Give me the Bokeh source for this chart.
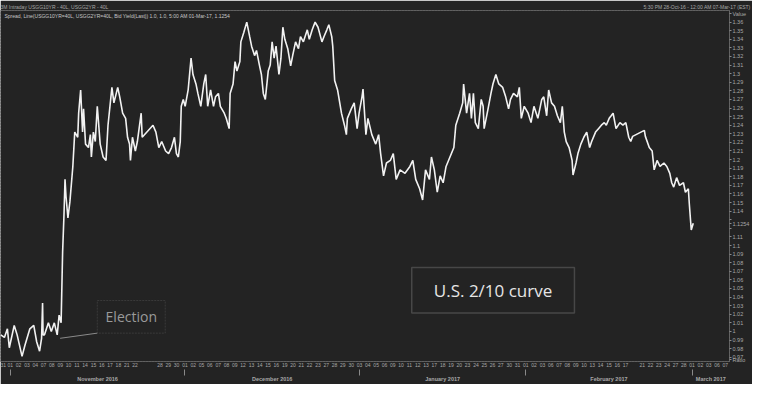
from bokeh.plotting import figure
from bokeh.models import (FixedTicker, LinearAxis, Label, BoxAnnotation, Range1d,
                          ColumnDataSource, CustomJSTickFormatter)
from bokeh.embed import file_html
from bokeh.resources import INLINE

# ---------------- data ----------------
# trading sessions (index 0 = 31-Oct-2016); "" = label not shown
day_labels = ["31", "01", "02", "03", "04", "07", "08", "09", "10", "11", "14", "15", "16", "17", "18",
              "21", "22", "", "", "28", "29", "30",
              "01", "02", "05", "06", "07", "08", "09", "12", "13", "14", "15", "16", "19", "20", "21",
              "22", "23", "27", "28", "29", "30",
              "03", "04", "05", "06", "09", "10", "11", "12", "13", "17", "18", "19", "20", "23", "24",
              "25", "26", "27", "30", "31",
              "01", "02", "03", "06", "07", "08", "09", "10", "13", "14", "15", "16", "17", "", "21",
              "22", "23", "24", "27", "28",
              "01", "02", "03", "06", "07"]
month_names = ["November 2016", "December 2016", "January 2017", "February 2017", "March 2017"]
month_start = [1, 22, 43, 63, 83]          # session index of each month's first day
session_end = 87.5

# spread (10y - 2y), session position and value
t = [-0.15, 0.29, 0.65, 0.88, 1.47, 1.82, 2.41, 2.76, 3.35, 3.82, 4.17, 4.52, 4.76, 4.88, 4.94,
     5.11, 5.58, 5.93, 6.29, 6.64, 6.87, 7.11, 7.29, 7.46, 7.58, 7.70, 7.93, 8.17, 8.52, 8.75,
     9.11, 9.22, 9.46, 9.69, 9.81, 10.05, 10.40, 10.63, 10.75, 10.99, 11.22, 11.46, 11.81, 12.16,
     12.51, 12.75, 13.22, 13.46, 13.92, 14.16, 14.51, 14.87, 15.10, 15.34, 15.45, 15.69, 16.04,
     16.28, 16.74, 16.86, 18.16, 18.51, 18.86, 19.21, 19.68, 20.04, 20.39, 20.74, 20.98, 21.21,
     21.44, 21.56, 21.80, 22.03, 22.39, 22.74, 22.97, 23.33, 23.56, 23.91, 24.27, 24.50, 24.74,
     25.09, 25.44, 25.68, 26.03, 26.26, 26.73, 26.97, 27.32, 27.44, 27.79, 28.03, 28.26, 28.61,
     28.73, 29.08, 29.44, 29.79, 30.02, 30.38, 30.61, 30.96, 31.20, 31.43, 31.67, 32.02, 32.26,
     32.49, 32.73, 32.96, 33.31, 33.55, 33.78, 34.02, 34.37, 34.72, 34.96, 35.31, 35.66, 35.90,
     36.25, 36.72, 36.96, 37.31, 37.66, 38.01, 38.48, 38.72, 39.07, 39.31, 39.66, 39.78, 40.01,
     40.36, 40.83, 41.19, 41.42, 41.54, 42.01, 42.36, 42.71, 42.95, 43.30, 43.42, 43.77, 44.01,
     44.48, 44.95, 45.30, 45.54, 45.89, 46.24, 46.71, 47.06, 47.41, 47.88, 48.47, 49.06, 49.41,
     49.76, 50.23, 50.59, 50.94, 51.41, 51.65, 52.00, 52.35, 52.70, 53.06, 53.41, 53.88, 54.35,
     54.58, 55.05, 55.41, 55.52, 55.88, 56.23, 56.46, 56.70, 56.93, 57.29, 57.64, 57.87, 57.99,
     58.46, 58.81, 59.05, 59.40, 59.75, 60.22, 60.58, 60.93, 61.16, 61.52, 61.99, 62.22, 62.46,
     62.81, 63.28, 63.63, 63.98, 64.45, 64.92, 65.16, 65.51, 65.75, 66.10, 66.45, 66.80, 67.16,
     67.39, 67.63, 67.86, 68.21, 68.57, 68.68, 69.04, 69.27, 69.62, 69.98, 70.33, 70.68, 70.92,
     71.39, 71.74, 72.09, 72.44, 72.68, 73.03, 73.27, 73.50, 73.85, 74.32, 74.68, 75.03, 75.38,
     75.62, 75.85, 77.26, 77.38, 77.85, 78.20, 78.44, 78.79, 79.14, 79.61, 79.96, 80.32, 80.55,
     80.79, 81.14, 81.49, 81.96, 82.20, 82.55, 82.67, 82.90, 83.14]
spread = [0.996, 0.993, 1.003, 0.981, 1.007, 0.996, 0.971, 0.984, 1.003, 1.007, 0.988, 0.977, 0.992, 1.033, 0.996,
          0.996, 1.010, 1.000, 1.010, 0.996, 1.019, 1.010, 1.092, 1.137, 1.177, 1.157, 1.132, 1.151, 1.192, 1.232,
          1.226, 1.254, 1.281, 1.232, 1.259, 1.218, 1.214, 1.229, 1.203, 1.232, 1.221, 1.262, 1.218, 1.203,
          1.199, 1.240, 1.284, 1.266, 1.284, 1.273, 1.254, 1.248, 1.226, 1.218, 1.199, 1.226, 1.210,
          1.221, 1.254, 1.226, 1.240, 1.232, 1.214, 1.221, 1.210, 1.207, 1.214, 1.226, 1.207, 1.203,
          1.221, 1.262, 1.270, 1.262, 1.281, 1.318, 1.299, 1.288, 1.277, 1.262, 1.288, 1.299, 1.262,
          1.281, 1.262, 1.273, 1.277, 1.262, 1.254, 1.248, 1.236, 1.277, 1.288, 1.314, 1.303, 1.314,
          1.337, 1.348, 1.360, 1.343, 1.332, 1.321, 1.327, 1.310, 1.299, 1.277, 1.270, 1.303, 1.310,
          1.337, 1.318, 1.332, 1.299, 1.318, 1.354, 1.340, 1.329, 1.309, 1.321, 1.337, 1.329, 1.343,
          1.337, 1.351, 1.340, 1.351, 1.360, 1.354, 1.337, 1.343, 1.351, 1.357, 1.343, 1.332, 1.292,
          1.281, 1.254, 1.240, 1.229, 1.248, 1.259, 1.266, 1.236, 1.254, 1.273, 1.282, 1.229, 1.248,
          1.229, 1.218, 1.229, 1.207, 1.181, 1.196, 1.199, 1.207, 1.177, 1.188, 1.184, 1.192, 1.199,
          1.177, 1.166, 1.153, 1.188, 1.177, 1.203, 1.188, 1.162, 1.181, 1.173, 1.192, 1.203, 1.214,
          1.240, 1.254, 1.266, 1.288, 1.254, 1.277, 1.248, 1.277, 1.243, 1.236, 1.270, 1.262, 1.236,
          1.259, 1.277, 1.288, 1.299, 1.288, 1.284, 1.273, 1.259, 1.270, 1.277, 1.273, 1.284, 1.248,
          1.262, 1.254, 1.243, 1.262, 1.248, 1.270, 1.273, 1.251, 1.281, 1.266, 1.262, 1.251, 1.243,
          1.262, 1.232, 1.221, 1.214, 1.199, 1.182, 1.196, 1.207, 1.218, 1.226, 1.232, 1.214, 1.221,
          1.232, 1.236, 1.240, 1.243, 1.240, 1.248, 1.251, 1.254, 1.236, 1.243, 1.240, 1.243, 1.226,
          1.221, 1.227, 1.234, 1.227, 1.214, 1.210, 1.188, 1.199, 1.192, 1.196, 1.192, 1.184, 1.173,
          1.168, 1.179, 1.170, 1.173, 1.162, 1.166, 1.148, 1.118, 1.126]
last_value = 1.1254
y_ticks = [round(0.97 + 0.01 * i, 2) for i in range(40)]
hidden_y_labels = [1.12, 1.13]            # covered by the last-value tag
header_left = "3M Intraday USGG10YR - 40L, USGG2YR - 40L"
header_right = "5:30 PM 28-Oct-16 - 12:00 AM 07-Mar-17 (EST)"
header_sub = "Spread, Line(USGG10YR=40L, USGG2YR=40L, Bid Yield(Last))    1.0, 1.0,  5:00 AM 01-Mar-17, 1.1254"

assert len(t) == len(spread)

# ---------------- styling ----------------
BG = "#232323"
GRAY = "#a8a8a8"
FONT = "Liberation Sans"
Y_LO, Y_HI = 0.965, 1.3735

p = figure(width=752, height=384, output_backend="svg", toolbar_location=None,
           x_range=Range1d(-0.18, session_end), y_range=Range1d(Y_LO, Y_HI),
           x_axis_type=None, y_axis_location="right",
           background_fill_color=BG, border_fill_color=BG,
           min_border_left=0, min_border_top=0, min_border_bottom=0, min_border_right=0)
p.outline_line_color = "#6a6a6a"
p.outline_line_dash = "1 2"

# vertical day grid
p.xgrid.ticker = FixedTicker(ticks=list(range(len(day_labels))))
p.xgrid.grid_line_color = "#363636"
p.xgrid.grid_line_dash = "1 3"
p.ygrid.grid_line_color = None

# right value axis (with "Value" / "Ratio" captions and last-value tag)
value_pos = Y_HI - 0.004
ratio_pos = Y_LO + 0.002
ya = p.yaxis[0]
ya.ticker = FixedTicker(ticks=y_ticks + [last_value, value_pos, ratio_pos])
ya.formatter = CustomJSTickFormatter(
    args=dict(last=last_value, vpos=value_pos, rpos=ratio_pos, hide=hidden_y_labels),
    code="""
if (Math.abs(tick-last)<1e-7) return last.toFixed(4);
if (Math.abs(tick-vpos)<1e-7) return 'Value';
if (Math.abs(tick-rpos)<1e-7) return 'Ratio';
const r = Math.round(tick*100)/100;
for (const h of hide) { if (Math.abs(r-h)<1e-7) return ''; }
return r.toString();
""")
ya.axis_line_color = "#6a6a6a"
ya.axis_line_dash = "1 2"
ya.major_tick_line_color = "#8a8a8a"
ya.major_tick_out = 2
ya.major_tick_in = 0
ya.minor_tick_line_color = None
ya.major_label_text_font = FONT
ya.major_label_text_font_size = "5.5px"
ya.major_label_text_color = GRAY
ya.major_label_standoff = 1

# header line (above the frame)
head_pos = [4.7, 83.6]
head_axis = LinearAxis(ticker=FixedTicker(ticks=head_pos),
                       formatter=CustomJSTickFormatter(args=dict(pos=head_pos, names=[header_left, header_right]),
                                                       code="for (let i=0;i<pos.length;i++){ if (Math.abs(tick-pos[i])<0.01) return names[i]; } return '';"))
head_axis.axis_line_color = None
head_axis.major_tick_out = 0
head_axis.major_tick_in = 0
head_axis.minor_tick_line_color = None
head_axis.major_label_text_font = FONT
head_axis.major_label_text_font_size = "5px"
head_axis.major_label_text_color = GRAY
head_axis.major_label_standoff = 1
p.add_layout(head_axis, "above")

# day axis
day_axis = LinearAxis(ticker=FixedTicker(ticks=list(range(len(day_labels)))),
                      formatter=CustomJSTickFormatter(args=dict(labels=day_labels),
                                                      code="const i=Math.round(tick); return (i>=0 && i<labels.length) ? labels[i] : '';"))
day_axis.axis_line_color = None
day_axis.major_tick_out = 0
day_axis.major_tick_in = 0
day_axis.minor_tick_line_color = None
day_axis.major_label_text_font = FONT
day_axis.major_label_text_font_size = "5px"
day_axis.major_label_text_color = GRAY
day_axis.major_label_standoff = 1
p.add_layout(day_axis, "below")

# month axis
month_center = [(month_start[i] + (month_start[i + 1] if i + 1 < len(month_start) else session_end)) / 2
                for i in range(len(month_start))]
month_axis = LinearAxis(ticker=FixedTicker(ticks=month_center, minor_ticks=month_start),
                        formatter=CustomJSTickFormatter(args=dict(pos=month_center, names=month_names),
                                                        code="for (let i=0;i<pos.length;i++){ if (Math.abs(tick-pos[i])<0.01) return names[i]; } return '';"))
month_axis.axis_line_color = None
month_axis.major_tick_out = 0
month_axis.major_tick_in = 0
month_axis.minor_tick_out = 6
month_axis.minor_tick_in = 0
month_axis.minor_tick_line_color = "#8a8a8a"
month_axis.major_label_text_font = FONT
month_axis.major_label_text_font_size = "5.5px"
month_axis.major_label_text_font_style = "bold"
month_axis.major_label_text_color = GRAY
month_axis.major_label_standoff = 0
p.add_layout(month_axis, "below")

# the spread line
src = ColumnDataSource(dict(t=t, v=spread))
p.line("t", "v", source=src, line_color="#f2f2f2", line_width=1.6)

# sub header inside the frame
p.add_layout(Label(x=-0.18, y=Y_HI, text=header_sub,
                   text_font=FONT, text_font_size="5px", text_color="#c8c8c8",
                   text_baseline="top", x_offset=4, y_offset=-2))

# annotations
p.add_layout(BoxAnnotation(left=11.46, right=19.63, bottom=0.998, top=1.036,
                           fill_alpha=0, line_color="#707070", line_width=1, line_dash="2 1"))
p.add_layout(Label(x=15.55, y=1.017, text="Election", text_font="Open Sans",
                   text_font_size="14px", text_color="#9a9a9a",
                   text_align="center", text_baseline="middle"))
p.line([6.99, 11.46], [0.992, 0.998], line_color="#8a8a8a", line_width=1)

p.add_layout(BoxAnnotation(left=49.28, right=68.85, bottom=1.0213, top=1.0743,
                           fill_alpha=0, line_color="#9a9a9a", line_width=1.5))
p.add_layout(Label(x=59.06, y=1.0478, text="U.S. 2/10 curve", text_font="Open Sans",
                   text_font_size="17px", text_color="#e6e6e6",
                   text_align="center", text_baseline="middle"))

open("out.html", "w").write(file_html(p, INLINE))
